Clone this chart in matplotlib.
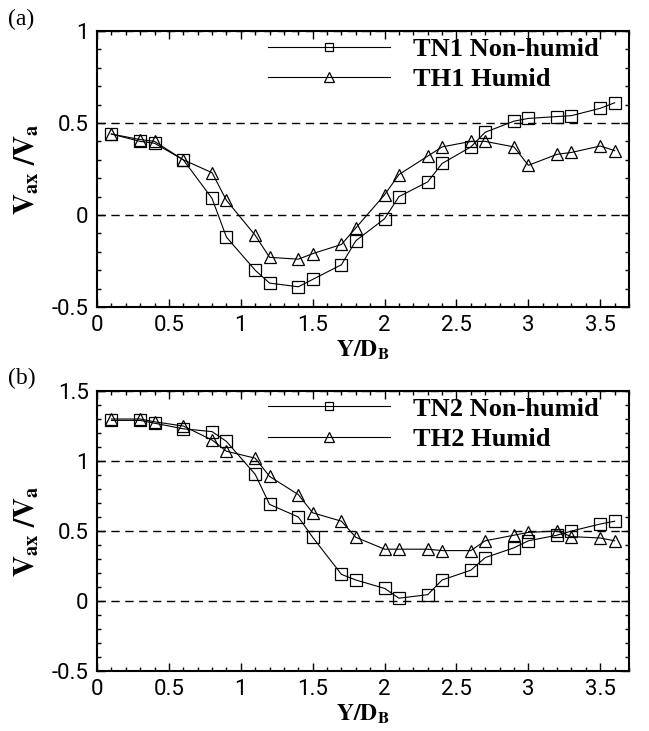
import matplotlib
matplotlib.use("Agg")
import matplotlib.pyplot as plt
from matplotlib.ticker import MultipleLocator, FuncFormatter

plt.rcParams['font.family'] = ['Liberation Serif', 'DejaVu Serif']
plt.rcParams['mathtext.fontset'] = 'stix'

# (a) TN1 / TH1
y_a = [0.1, 0.3, 0.4, 0.6, 0.8, 0.9, 1.1, 1.2, 1.4, 1.5, 1.7, 1.8,
       2.0, 2.1, 2.3, 2.4, 2.6, 2.7, 2.9, 3.0, 3.2, 3.3, 3.5, 3.6]
tn1 = [0.44, 0.40, 0.39, 0.30, 0.09, -0.12, -0.30, -0.37, -0.39, -0.35, -0.27, -0.14,
       -0.02, 0.10, 0.18, 0.28, 0.37, 0.45, 0.51, 0.525, 0.535, 0.54, 0.58, 0.61]
th1 = [0.44, 0.41, 0.40, 0.30, 0.23, 0.08, -0.11, -0.23, -0.24, -0.21, -0.16, -0.07,
       0.11, 0.22, 0.32, 0.37, 0.40, 0.40, 0.37, 0.27, 0.33, 0.34, 0.375, 0.35]

# (b) TN2 / TH2
y_b = y_a
tn2 = [1.29, 1.29, 1.27, 1.23, 1.21, 1.14, 0.905, 0.69, 0.60, 0.455, 0.19, 0.15,
       0.09, 0.02, 0.045, 0.15, 0.22, 0.31, 0.38, 0.43, 0.47, 0.50, 0.55, 0.57]
th2 = [1.30, 1.30, 1.28, 1.25, 1.15, 1.07, 1.02, 0.89, 0.76, 0.63, 0.57, 0.455,
       0.37, 0.37, 0.37, 0.36, 0.36, 0.43, 0.47, 0.49, 0.50, 0.46, 0.45, 0.43]

fig = plt.figure(figsize=(6.49, 7.31), dpi=100)
ax1 = fig.add_axes([0.1495, 0.580, 0.8197, 0.3776])
ax2 = fig.add_axes([0.1495, 0.0821, 0.8197, 0.383])

fmt = FuncFormatter(lambda v, p: f'{v:g}')

def style(ax, x, ylim, s1, s2, labs):
    ax.plot(x, s1, '-', color='black', lw=0.8, marker='s', ms=8, mfc='none',
            mec='black', mew=0.9, label=labs[0])
    ax.plot(x, s2, '-', color='black', lw=0.8, marker='^', ms=9, mfc='none',
            mec='black', mew=0.9, label=labs[1])
    ax.set_xlim(0, 3.7)
    ax.set_ylim(*ylim)
    ax.xaxis.set_major_locator(MultipleLocator(0.5))
    ax.xaxis.set_minor_locator(MultipleLocator(0.1))
    ax.yaxis.set_major_locator(MultipleLocator(0.5))
    ax.yaxis.set_minor_locator(MultipleLocator(0.1))
    ax.xaxis.set_major_formatter(fmt)
    ax.yaxis.set_major_formatter(fmt)
    ax.tick_params(which='both', direction='in', top=True, right=True, width=1)
    ax.tick_params(which='major', length=6, labelsize=16, pad=6)
    ax.tick_params(which='minor', length=3)
    ax.grid(axis='y', which='major', linestyle=(0, (6, 4)), color='black', lw=1)
    for sp in ax.spines.values():
        sp.set_linewidth(1.5)
    ax.set_xlabel(r'$\mathbf{Y/D_B}$', fontsize=17, labelpad=2)
    ax.set_ylabel(r'$\mathbf{V_{ax}\ /V_a}$', fontsize=21)
    ax.yaxis.set_label_coords(-0.105, 0.5)
    ax.legend(loc='upper left', bbox_to_anchor=(0.277, 1.063), frameon=False,
              numpoints=1, handlelength=4.6, handletextpad=0.9, labelspacing=0.27,
              prop={'weight': 'bold', 'size': 19, 'family': 'Liberation Serif'},
              markerscale=0.8)

style(ax1, y_a, (-0.5, 1.0), tn1, th1, ['TN1 Non-humid', 'TH1 Humid'])
style(ax2, y_b, (-0.5, 1.5), tn2, th2, ['TN2 Non-humid', 'TH2 Humid'])
fig.canvas.draw()
for ax in (ax1, ax2):
    for lab in ax.get_xticklabels() + ax.get_yticklabels():
        lab.set_family(['Roboto', 'DejaVu Sans'])
        lab.set_fontweight('normal')
        lab.set_color('black')

fig.text(0.012, 0.988, '(a)', fontsize=17, va='top', ha='left')
fig.text(0.012, 0.497, '(b)', fontsize=17, va='top', ha='left')

fig.savefig('out.png', dpi=100)
